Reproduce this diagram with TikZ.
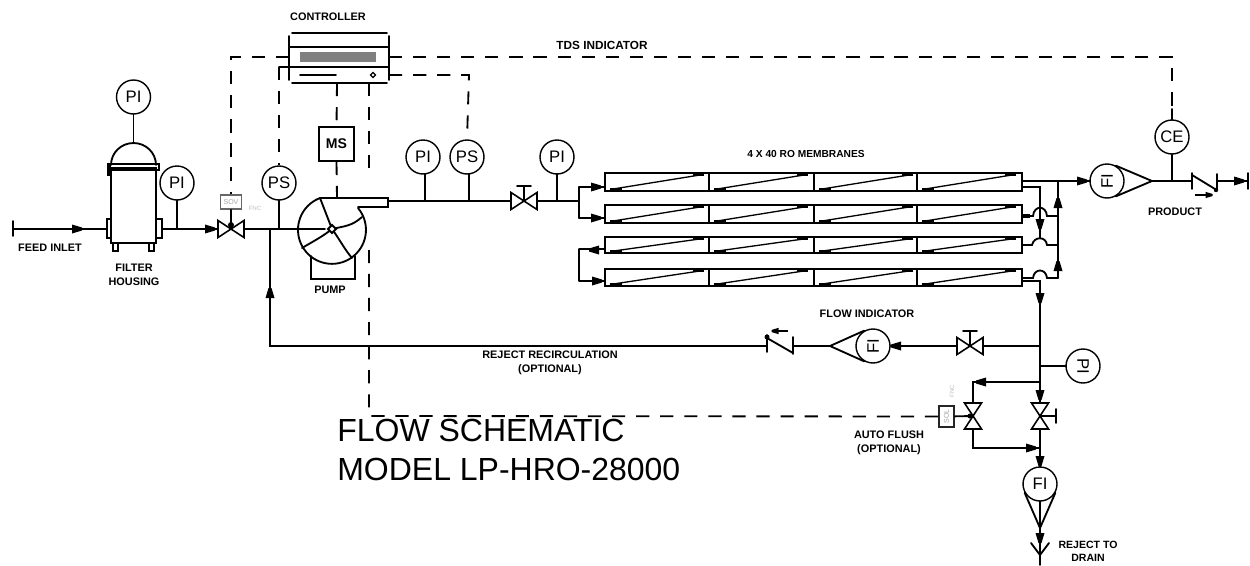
\documentclass[tikz,border=0pt]{standalone}
\usepackage{fontspec}
\setmainfont{Liberation Sans}
\usetikzlibrary{positioning}
\tikzset{
	pipe/.style={line width=1.05pt, line cap=round},
	signal/.style={line width=1.05pt, dash pattern=on 7.5pt off 6.2pt},
	gauge/.style={circle, draw, line width=.8pt, minimum size=.68cm, inner sep=0pt, font=\fontsize{9.5}{12}\selectfont},
	tag/.style={font=\fontsize{6.2}{8.3}\selectfont\bfseries, align=center, inner sep=0pt},
	greybox/.style={draw=black!60, line width=1pt, fill=white, inner sep=0pt, text=black!35, font=\fontsize{4}{5}\selectfont},
	faint/.style={inner sep=0pt, text=black!25, font=\fontsize{3.5}{4}\selectfont},
	flowtip/.pic={\fill (-5,-4.5)--(5,-1.5)--(5,1.5)--(-5,4.5)--cycle;},
	valve/.pic={\draw[pipe, line width=.9pt, fill=white] (-13,-8.5)--(13,8.5)--(13,-8.5)--(-13,8.5)--cycle;},
	stem/.pic={\draw[pipe] (0,0)--(0,-15) (-7,-15)--(7,-15);},
	tube/.pic={
		\draw[pipe] (0,0) rectangle (417,#1);
		\foreach \xdiv in {104,209,312} \draw[pipe] (\xdiv,0)--(\xdiv,#1);
		\foreach \xbeg in {0,104,209,312} {
			\draw[line width=.75pt] (\xbeg+5,#1-1.5)--(\xbeg+98,1.5);
			\draw[line width=1.6pt] (\xbeg+5,#1-1.5)--(\xbeg+17,#1-1.5) (\xbeg+88,1.5)--(\xbeg+99,1.5);
		}
	}
}
\begin{document}
\begin{tikzpicture}[x=0.02cm, y=-0.02cm]
	\useasboundingbox (0,0) rectangle (1250,565);

	% feed and filter housing
	\coordinate (feed) at (13,229);
	\coordinate (filterin) at (107,229);
	\coordinate (filterout) at (162,229);
	\coordinate (domeTop) at (133.5,143);
	\coordinate (valveA) at (231,229);
	\coordinate (inlet) at (325,229);
	\draw[pipe] (13,221)--(13,236);
	\draw[pipe] (feed)--(filterin);
	\pic at (77,229) {flowtip};
	\draw[pipe] (111,168) rectangle (156,243);
	\draw[pipe] (111,165) arc[start angle=180, end angle=0, x radius=.45cm, y radius=.44cm];
	\draw[pipe] (108,164) rectangle (159,170);
	\fill (107,164) rectangle (111,176);
	\draw[pipe] (107,219) rectangle (111,238);
	\draw[pipe] (156,219) rectangle (162,238);
	\draw[pipe] (113,243) rectangle (118,251);
	\draw[pipe] (149,243) rectangle (154,251);
	\node[tag] (feedlabel) at (50,248) {FEED INLET};
	\node[tag] (filterlabel) at (134,275) {FILTER\\HOUSING};
	\node[gauge] (PIdome) at (133.5,97) {PI};
	\draw[pipe] (PIdome)--(domeTop);
	\node[gauge] (PIfilter) at (177,183) {PI};
	\draw[pipe] (PIfilter)--(PIfilter |- filterout);
	\draw[pipe] (filterout)--(valveA);
	\pic at (210,229) {flowtip};

	% inlet valve and suction line
	\draw[pipe] (valveA)--(inlet);
	\pic at (valveA) {valve};
	\node[greybox, minimum width=.42cm, minimum height=.28cm] (SOV) at (231,202) {SOV};
	\draw[pipe] (SOV)--(valveA);
	\fill (231,225) circle (3);
	\node[faint] (sovnote) at (255,208) {FNC};
	\node[gauge] (PSin) at (279,183) {PS};
	\draw[pipe] (PSin)--(PSin |- inlet);

	% pump
	\coordinate (hub) at (332,229);
	\coordinate (outlet) at (388,201);
	\draw[pipe] (358,208) arc[start angle=40, end angle=-249, radius=.68cm];
	\draw[pipe] (320,198)--(388,198)--(388,207)--(358,207);
	\draw[pipe] (362,217) .. controls (352,226) and (345,226) .. (hub);
	\draw[pipe] (320,198)--(hub) .. controls (340,240) and (345,250) .. (352,258);
	\draw[pipe] (hub) .. controls (322,237) and (312,242) .. (302,248);
	\draw[pipe, fill=white] (328,229)--(332,225)--(336,229)--(332,233)--cycle;
	\draw[pipe] (311,256)--(311,279)--(355,279)--(355,256);
	\node[tag] (pumplabel) at (330,290) {PUMP};

	% controller
	\coordinate (ctlTL) at (290,33);
	\coordinate (ctlBR) at (389,83);
	\draw[pipe] (289,36)--(289,80) (389,36)--(389,80);
	\draw[pipe] (292,33)--(387,33) (292,83)--(387,83);
	\draw[pipe] (289,47)--(389,47) (279,67)--(389,67);
	\fill[black!50] (300,52) rectangle (376,62);
	\draw[pipe] (300,75)--(336,75);
	\draw[line width=.7pt] (373,72.5)--(375.5,75)--(373,77.5)--(370.5,75)--cycle;
	\node[tag] (ctllabel) at (328,17) {CONTROLLER};
	\node[pipe, draw, minimum width=.7cm, minimum height=.68cm, inner sep=0pt, font=\fontsize{8}{10}\selectfont\bfseries] (MS) at (336.5,144) {MS};

	% control signals
	\draw[signal] (389,57)--(1172,57)--(1172,109);
	\draw[signal] (289,57)--(231,57)--(SOV.north);
	\draw[signal] (279,67)--(PSin.north);
	\draw[signal] (337,83)--(MS.north);
	\draw[signal] (MS.south)--(337,198);
	\draw[signal] (369,83)--(369,176);
	\node[tag, font=\fontsize{6.7}{8}\selectfont\bfseries] (tdslabel) at (602,45) {TDS INDICATOR};

	% high pressure line
	\node[gauge] (PIa) at (423,157) {PI};
	\node[gauge] (PSa) at (467,157) {PS};
	\node[gauge] (PIb) at (557,157) {PI};
	\coordinate (valveB) at (524,201);
	\coordinate (split) at (579,201);
	\draw[signal] (389,75)--(469,75)--(PSa.north);
	\draw[pipe] (outlet)--(valveB)--(split);
	\draw[pipe] (425,174)--(425,201) (469,174)--(469,201) (557,174)--(557,201);
	\pic at (valveB) {valve};
	\pic at (valveB) {stem};

	% membranes
	\pic at (605,173) {tube=18};
	\pic at (605,205) {tube=18};
	\pic at (605,237) {tube=16};
	\pic at (605,269) {tube=17};
	\node[tag, font=\fontsize{5.8}{7}\selectfont\bfseries] (rolabel) at (806,154) {4 X 40 RO MEMBRANES};
	\draw[pipe] (579,187)--(605,187) (579,218)--(605,218);
	\draw[pipe] (split |- 0,187)--(split |- 0,218);
	\draw[pipe] (579,249)--(605,249) (579,281)--(605,281) (579,249)--(579,281);
	\pic at (596,187) {flowtip};
	\pic at (596,218) {flowtip};
	\pic[rotate=180] at (594,250) {flowtip};
	\pic at (597,281) {flowtip};

	% outlet manifolds
	\coordinate (drain) at (1040,565);
	\draw[pipe] (1022,181)--(1090,181);
	\draw[pipe] (1058,181)--(1058,278);
	\pic[rotate=90] at (1058,203) {flowtip};
	\pic[rotate=90] at (1058,266) {flowtip};
	\draw[pipe] (1022,187)--(1040,187)--(1040,238);
	\pic[rotate=270] at (1040,224) {flowtip};
	\draw[pipe] (1022,216)--(1033,216) .. controls (1034,205) and (1046,205) .. (1047,216)--(1058,216);
	\draw[pipe] (1022,245)--(1032,245) .. controls (1034,236) and (1046,236) .. (1047,245)--(1058,245);
	\draw[pipe] (1022,278)--(1033,278) .. controls (1034,268) and (1046,268) .. (1047,278)--(1058,278);
	\draw[pipe] (1022,281)--(1040,281)--(drain);
	\fill (1022,214) rectangle (1030,218);
	\pic[rotate=270] at (1040,298) {flowtip};

	% product side
	\node[gauge] (FIprod) at (1107,181) {\rotatebox{90}{FI}};
	\pic at (1082,181) {flowtip};
	\draw[pipe] (FIprod.60)--(1152,181)--(FIprod.-60);
	\node[gauge] (CE) at (1172,137) {CE};
	\draw[pipe] (1172,109)--(CE.north);
	\draw[pipe] (CE.south)--(1172,181);
	\draw[pipe] (1152,181)--(1192,181);
	\draw[pipe] (1192,173)--(1192,189) (1192,175)--(1215,189) (1217,174)--(1217,190);
	\draw[pipe] (1217,181)--(1248,181) (1248,173)--(1248,189);
	\pic at (1239,181) {flowtip};
	\draw[line width=.7pt] (1195,195)--(1212,195);
	\pic[scale=.7] at (1209,195) {flowtip};
	\fill (1216,190) circle (2.2);
	\node[tag] (prodlabel) at (1175,212) {PRODUCT};

	% reject recirculation
	\coordinate (recycle) at (270,346);
	\coordinate (valveC) at (970,346);
	\node[gauge] (FIrec) at (873,346) {\rotatebox{90}{FI}};
	\draw[pipe] (1040,346)--(FIrec.east);
	\pic at (valveC) {valve};
	\pic at (valveC) {stem};
	\pic[rotate=180] at (896,346) {flowtip};
	\draw[pipe] (FIrec.120)--(830,346)--(FIrec.-120);
	\draw[pipe] (830,346)--(793,346);
	\draw[pipe] (793,337)--(793,354) (793,353)--(767,338) (767,335)--(767,352);
	\draw[pipe] (767,346)--(recycle)--(270,229);
	\fill (767,337) circle (2.5);
	\draw[line width=.7pt] (772,331)--(788,331);
	\pic[rotate=180, scale=.7] at (775,331) {flowtip};
	\pic[rotate=90] at (270,293) {flowtip};
	\node[tag] (flowlabel) at (867,314) {FLOW INDICATOR};
	\node[tag] (reclabel) at (550,363) {REJECT RECIRCULATION\\(OPTIONAL)};

	% auto flush and drain
	\coordinate (flushTop) at (973,382);
	\coordinate (flushValve) at (973,416);
	\coordinate (mainValve) at (1040,416);
	\coordinate (flushBot) at (973,448);
	\node[gauge] (PIrej) at (1083,366) {\rotatebox{-90}{PI}};
	\draw[pipe] (PIrej)--(1040,366);
	\draw[pipe] (1040,382)--(flushTop)--(flushValve);
	\draw[pipe] (flushValve)--(flushBot)--(1040,448);
	\pic[rotate=180] at (981,382) {flowtip};
	\pic at (1031,448) {flowtip};
	\pic[rotate=270] at (1040,395) {flowtip};
	\pic[rotate=270] at (1040,461) {flowtip};
	\pic[rotate=90] at (flushValve) {valve};
	\pic[rotate=90] at (mainValve) {valve};
	\draw[pipe] (mainValve)--(1056,416) (1056,409)--(1056,423);
	\node[greybox, draw=black!85, minimum width=.3cm, minimum height=.41cm] (SOL) at (946.5,416.5) {\rotatebox{90}{SOL}};
	\draw[pipe] (SOL)--(flushValve);
	\fill (970,416) circle (2.5);
	\draw[signal] (SOL.west)--(369,416)--(369,250);
	\node[faint, rotate=90] (solnote) at (952,391) {FNC};
	\node[tag] (flushlabel) at (889,443) {AUTO FLUSH\\(OPTIONAL)};
	\node[gauge, fill=white] (FIrej) at (1040,484) {FI};
	\draw[pipe] (FIrej.-150)--(1040,528)--(FIrej.-30);
	\pic[rotate=270] at (1040,538) {flowtip};
	\draw[pipe] (1031,543)--(1040,555)--(1049,543);
	\node[tag, font=\fontsize{6}{7.6}\selectfont\bfseries] (drainlabel) at (1088,551) {REJECT TO\\DRAIN};

	% title
	\node[anchor=west, align=left, inner sep=0pt, font=\fontsize{18.2}{22.6}\selectfont] (title) at (337,450) {FLOW SCHEMATIC\\MODEL LP-HRO-28000};
\end{tikzpicture}
\end{document}
